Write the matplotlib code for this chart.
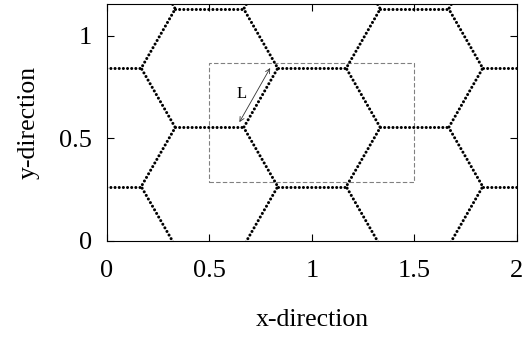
import numpy as np
import matplotlib
matplotlib.use('Agg')
import matplotlib.pyplot as plt
from matplotlib.patches import Rectangle

plt.rcParams['font.family'] = ['Liberation Serif', 'DejaVu Serif']

# zigzag columns of the honeycomb (vertex coordinates)
zig_y = [-0.024, 0.265, 0.553, 0.842, 1.131, 1.420]
zig_cols = [
    [0.333, 0.167, 0.333, 0.167, 0.333, 0.167],
    [0.667, 0.833, 0.667, 0.833, 0.667, 0.833],
    [1.333, 1.167, 1.333, 1.167, 1.333, 1.167],
    [1.667, 1.833, 1.667, 1.833, 1.667, 1.833],
]
# horizontal edges: x start, x end, y
h_x0 = [-0.167, 0.833, 1.833, 0.333, 1.333, -0.167, 0.833, 1.833, 0.333, 1.333]
h_x1 = [0.167, 1.167, 2.167, 0.667, 1.667, 0.167, 1.167, 2.167, 0.667, 1.667]
h_y = [0.265, 0.265, 0.265, 0.553, 0.553, 0.842, 0.842, 0.842, 1.131, 1.131]

# unit cell box and the L arrow
box_x, box_y, box_w, box_h = 0.5, 0.2887, 1.0, 0.577
arrow_start = (0.646, 0.579)
arrow_end = (0.796, 0.843)

fig = plt.figure(figsize=(5.27, 3.37), dpi=100)
ax = fig.add_axes([0.203, 0.285, 0.778, 0.703])

dots = dict(color='black', lw=2.2, linestyle=(0, (0.01, 1.35)),
            dash_capstyle='round')
for xs in zig_cols:
    ax.plot(xs, zig_y, **dots)
for x0, x1, y in zip(h_x0, h_x1, h_y):
    ax.plot([x0, x1], [y, y], **dots)

ax.add_patch(Rectangle((box_x, box_y), box_w, box_h, fill=False,
                       ec='#808080', lw=0.8, ls=(0, (4, 2))))
ax.annotate('', xy=arrow_end, xytext=arrow_start,
            arrowprops=dict(arrowstyle='<->', lw=0.6, color='#333333',
                            shrinkA=0, shrinkB=0, mutation_scale=8))
ax.text(0.658, 0.718, 'L', fontsize=12, ha='center', va='center')

ax.set_xlim(0, 2)
ax.set_ylim(0, 1.1547)
ax.set_xticks([0, 0.5, 1, 1.5, 2])
ax.set_xticklabels(['0', '0.5', '1', '1.5', '2'])
ax.set_yticks([0, 0.5, 1])
ax.set_yticklabels(['0', '0.5', '1'])
ax.tick_params(direction='in', top=True, right=True, length=5, width=0.8,
               labelsize=19)
ax.tick_params(axis='x', pad=14)
ax.tick_params(axis='y', pad=11)
for s in ax.spines.values():
    s.set_linewidth(0.8)
ax.set_xlabel('x-direction', fontsize=18.5, labelpad=19)
ax.set_ylabel('y-direction', fontsize=18.5, labelpad=14)

fig.savefig('out.png', dpi=100)
